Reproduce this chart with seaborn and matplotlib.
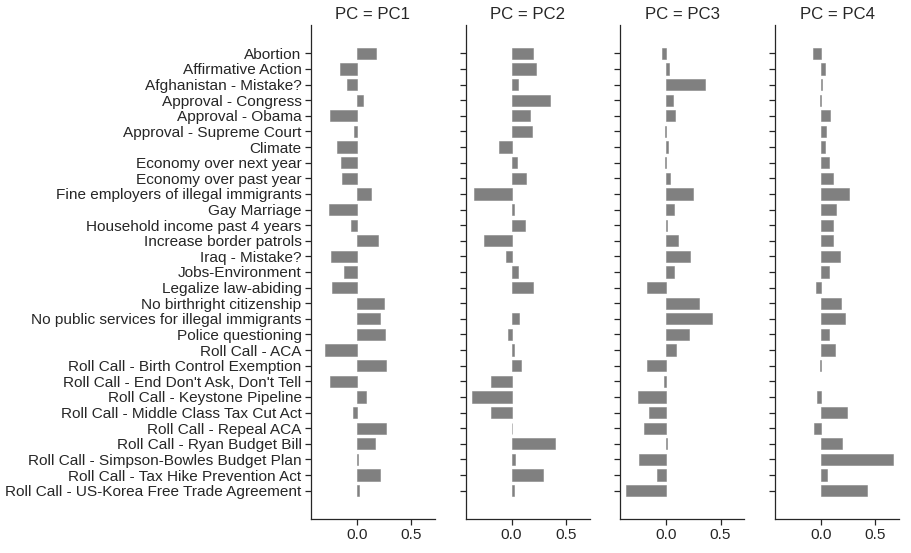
import numpy as np
import pandas as pd
import seaborn as sns
import matplotlib
matplotlib.use("Agg")
import matplotlib.pyplot as plt

questions = [
    "Abortion", "Affirmative Action", "Afghanistan - Mistake?", "Approval - Congress",
    "Approval - Obama", "Approval - Supreme Court", "Climate", "Economy over next year",
    "Economy over past year", "Fine employers of illegal immigrants", "Gay Marriage",
    "Household income past 4 years", "Increase border patrols", "Iraq - Mistake?",
    "Jobs-Environment", "Legalize law-abiding", "No birthright citizenship",
    "No public services for illegal immigrants", "Police questioning", "Roll Call - ACA",
    "Roll Call - Birth Control Exemption", "Roll Call - End Don't Ask, Don't Tell",
    "Roll Call - Keystone Pipeline", "Roll Call - Middle Class Tax Cut Act",
    "Roll Call - Repeal ACA", "Roll Call - Ryan Budget Bill",
    "Roll Call - Simpson-Bowles Budget Plan", "Roll Call - Tax Hike Prevention Act",
    "Roll Call - US-Korea Free Trade Agreement",
]

pc1 = [0.176, -0.157, -0.093, 0.056, -0.250, -0.028, -0.185, -0.148, -0.139, 0.130,
       -0.259, -0.056, 0.194, -0.241, -0.120, -0.231, 0.250, 0.213, 0.259, -0.296,
       0.269, -0.250, 0.083, -0.037, 0.269, 0.167, 0.006, 0.213, 0.019]
pc2 = [0.194, 0.222, 0.056, 0.352, 0.167, 0.185, -0.120, 0.046, 0.130, -0.343,
       0.019, 0.120, -0.259, -0.056, 0.056, 0.194, 0.000, 0.065, -0.037, 0.019,
       0.083, -0.194, -0.361, -0.194, 0.006, 0.398, 0.028, 0.287, 0.019]
pc3 = [-0.037, 0.028, 0.361, 0.065, 0.083, -0.009, 0.019, -0.009, 0.037, 0.250,
       0.074, 0.009, 0.111, 0.222, 0.074, -0.176, 0.306, 0.417, 0.213, 0.093,
       -0.176, -0.019, -0.259, -0.157, -0.204, 0.006, -0.250, -0.083, -0.370]
pc4 = [-0.074, 0.037, 0.009, -0.009, 0.083, 0.046, 0.037, 0.074, 0.111, 0.259,
       0.139, 0.111, 0.111, 0.176, 0.074, -0.046, 0.185, 0.222, 0.074, 0.130,
       -0.009, 0.000, -0.037, 0.241, -0.065, 0.194, 0.667, 0.056, 0.426]
pc_names = ["PC1", "PC2", "PC3", "PC4"]

df = pd.DataFrame({
    "question": questions * 4,
    "loading": pc1 + pc2 + pc3 + pc4,
    "PC": np.repeat(pc_names, len(questions)),
})

sns.set_theme(style="ticks", context="notebook", font_scale=1.4)
plt.rcParams["font.family"] = ["Liberation Sans", "DejaVu Sans"]

g = sns.catplot(data=df, x="loading", y="question", col="PC", kind="bar",
                color="gray", saturation=1, width=0.72, orient="h",
                order=questions, col_order=pc_names, sharex=True, sharey=True,
                height=5, aspect=0.5)
g.set_axis_labels("", "")
g.set_titles("PC = {col_name}")
for ax in g.axes.flat:
    ax.set_xticks([0.0, 0.5])
    ax.set_xlim(-0.423, 0.719)
    ax.set_ylim(len(questions) - 1 + 1.81, -1.81)
    for p in ax.patches:
        if abs(p.get_width()) > 0:
            p.set_edgecolor("gray")
            p.set_linewidth(0.5)
g.figure.set_size_inches(911 / 72, 553 / 72)
g.figure.subplots_adjust(left=0.3414, right=0.9868, top=0.9548, bottom=0.0615, wspace=0.25)
g.figure.savefig("out.png", dpi=72)
